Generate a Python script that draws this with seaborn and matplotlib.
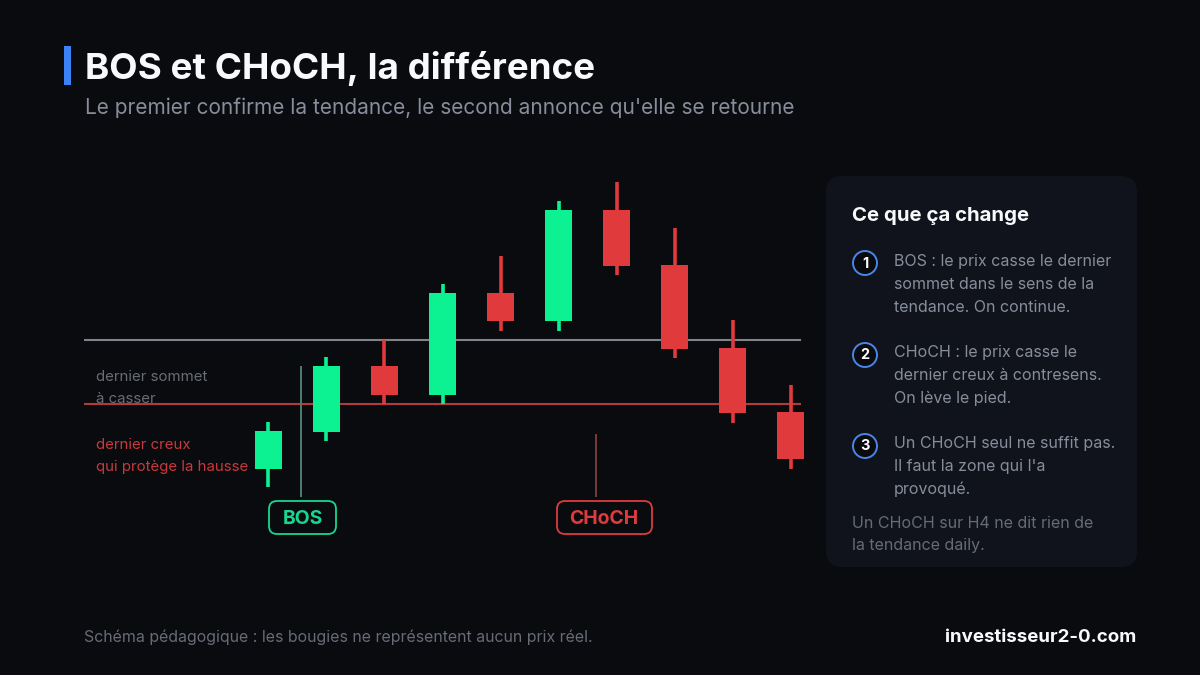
import matplotlib
matplotlib.use("Agg")
import matplotlib.pyplot as plt
from matplotlib.patches import FancyBboxPatch, Rectangle, Circle
import pandas as pd
import seaborn as sns

# Candle values (schematic price units)
candle_id = [1, 2, 3, 4, 5, 6, 7, 8, 9, 10]
opens = [81, 118, 184, 155, 257, 229, 340, 285, 202, 138]
closes = [119, 184, 155, 257, 229, 340, 284, 201, 137, 91]
highs = [128, 193, 210, 266, 294, 349, 368, 322, 230, 165]
lows = [63, 109, 146, 146, 219, 219, 275, 192, 127, 81]
resistance = 210
support = 146
bos_pos, bos_span = 1.552, (53, 184)
choch_pos, choch_span = 6.655, (53, 116)

BG = "#0a0b0f"; PANEL = "#10131b"
GREEN = "#0cf293"; RED = "#e03a3c"; BLUE = "#3b82f6"
TAG_GREEN = "#17d68e"; TAG_RED = "#de3b3d"
FONT = "Inter"

sns.set_theme(style="white")
plt.rcParams["font.family"] = [FONT, "DejaVu Sans"]

W, H = 1200, 675
fig = plt.figure(figsize=(W / 100, H / 100), dpi=100, facecolor=BG)

def fx(x): return x / W
def fy(y): return 1 - y / H

def txt(x, y, s, size, color, weight="normal", ha="left", va="center", z=5, **kw):
    return fig.text(fx(x), fy(y), s, fontsize=size * 0.72, color=color,
                    fontweight=weight, ha=ha, va=va, zorder=z, **kw)

# Overlay axes in pixel coordinates for the decoration
bg = fig.add_axes([0, 0, 1, 1], zorder=0)
bg.set_xlim(0, W); bg.set_ylim(H, 0); bg.axis("off")
bg.add_patch(Rectangle((64, 46), 7, 39, fc=BLUE, ec="none"))
bg.add_patch(FancyBboxPatch((842, 192), 279, 359, boxstyle="round,pad=16,rounding_size=16",
                            fc=PANEL, ec="none"))

# Chart axes: px 84..801 horizontally, 150..550 vertically
ax = fig.add_axes([fx(84), fy(550), (801 - 84) / W, 400 / H], zorder=2)
ax.patch.set_alpha(0)
df = pd.DataFrame({"id": candle_id, "open": opens, "close": closes, "high": highs, "low": lows})
df["bottom"] = df[["open", "close"]].min(axis=1)
df["size"] = (df["close"] - df["open"]).abs()
df["dir"] = ["up" if c > o else "down" for o, c in zip(opens, closes)]

wicks = df.melt(id_vars=["id", "dir"], value_vars=["high", "low"], value_name="price")
sns.lineplot(data=wicks, x="id", y="price", units="id", hue="dir", estimator=None,
             palette={"up": GREEN, "down": RED}, linewidth=2.6, legend=False, ax=ax, zorder=4,
             solid_capstyle="butt")

for d, col in (("up", GREEN), ("down", RED)):
    sub = df[df["dir"] == d]
    for _, row in sub.iterrows():
        ax.bar(row["id"], row["size"], bottom=row["bottom"], width=0.466, color=col,
               edgecolor="none", linewidth=0, zorder=5, clip_on=False)

ax.axhline(resistance, color="#7f8289", lw=1.5, zorder=2)
ax.axhline(support, color="#b23a3b", lw=1.5, zorder=2)
ax.vlines(bos_pos, *bos_span, color="#4f7f6c", lw=1.4, zorder=3)
ax.vlines(choch_pos, *choch_span, color="#7a3a3d", lw=1.4, zorder=3)

ax.set_xlim(-2.181, 10.181)
ax.set_ylim(0, 400)
ax.set_xlabel(""); ax.set_ylabel("")
ax.set_xticks([]); ax.set_yticks([])
sns.despine(ax=ax, left=True, bottom=True)

# Top overlay for tags and circles
top = fig.add_axes([0, 0, 1, 1], zorder=3)
top.set_xlim(0, W); top.set_ylim(H, 0); top.axis("off"); top.patch.set_alpha(0)
top.add_patch(FancyBboxPatch((277, 509), 51, 17, boxstyle="round,pad=8,rounding_size=8",
                             fc=BG, ec=TAG_GREEN, lw=1.3))
top.add_patch(FancyBboxPatch((565, 509), 79, 17, boxstyle="round,pad=8,rounding_size=8",
                             fc=BG, ec=TAG_RED, lw=1.3))
for yc, n in zip((263, 355, 446), "123"):
    top.add_patch(Circle((865, yc), 12, fc=BG, ec="#4a86e8", lw=1.4))
    txt(865, yc + 0.5, n, 14.5, "white", "bold", ha="center")

# Titles
txt(85, 68, "BOS et CHoCH, la différence", 36.8, "#f8f9fb", "bold")
txt(85, 108, "Le premier confirme la tendance, le second annonce qu'elle se retourne", 20.85, "#878d9b")

# Chart labels
for y, s in ((377, "dernier sommet"), (399, "à casser")):
    txt(96, y, s, 15, "#686c75", z=1)
for y, s in ((445, "dernier creux"), (467, "qui protège la hausse")):
    txt(96, y, s, 15, "#c63a3c")
txt(302.5, 519.5, "BOS", 19.4, TAG_GREEN, "bold", ha="center")
txt(604, 519.5, "CHoCH", 19.4, TAG_RED, "bold", ha="center")

# Panel text
txt(852, 216, "Ce que ça change", 20.4, "#f8f9fb", "bold")
body = [(261, "BOS : le prix casse le dernier"), (284, "sommet dans le sens de la"),
        (307, "tendance. On continue."), (352, "CHoCH : le prix casse le"),
        (375, "dernier creux à contresens."), (398, "On lève le pied."),
        (443, "Un CHoCH seul ne suffit pas."), (466, "Il faut la zone qui l'a"),
        (489, "provoqué.")]
for y, s in body:
    txt(894, y + 0.5, s, 16, "#878d9b")
txt(852, 523.5, "Un CHoCH sur H4 ne dit rien de", 16, "#666b76")
txt(852, 545.5, "la tendance daily.", 16, "#666b76")

# Footer
txt(84, 637.5, "Schéma pédagogique : les bougies ne représentent aucun prix réel.", 15.9, "#666b76")
txt(1136, 638, "investisseur2-0.com", 18.7, "#f8f9fb", "bold", ha="right")

fig.savefig("out.png", dpi=100, facecolor=BG)
